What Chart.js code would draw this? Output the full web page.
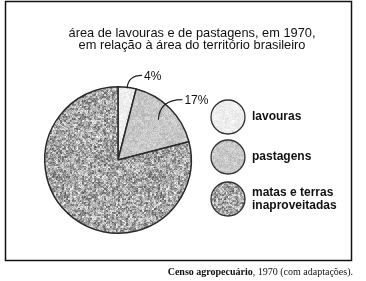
<!DOCTYPE html>
<html><head><meta charset="utf-8">
<script src="https://cdn.jsdelivr.net/npm/chart.js@4.4.0/dist/chart.umd.min.js"></script>
<style>html,body{margin:0;padding:0;background:#fff;}#wrap{width:366px;height:281px;position:relative;}canvas{display:block;}</style>
</head><body><div id="wrap"><canvas id="c" width="366" height="281"></canvas></div>
<script>
// ---- data ----
const categories = ['lavouras', 'pastagens', 'matas e terras inaproveitadas'];
const legendLines = [['lavouras'], ['pastagens'], ['matas e terras', 'inaproveitadas']];
const values = [4, 17, 79];
const labelledSlices = [0, 1];
const titleLines = ['área de lavouras e de pastagens, em 1970,', 'em relação à área do território brasileiro'];
const sourceBold = 'Censo agropecuário';
const sourceRest = ', 1970 (com adaptações).';

// ---- textures (deterministic) ----
function lcg(seed){let s=seed>>>0;return()=>{s=(s*1664525+1013904223)>>>0;return s/4294967296;};}
function makePattern(seed, mean, fine, coarse, cell){
  const n=96, cv=document.createElement('canvas'); cv.width=n; cv.height=n;
  const g=cv.getContext('2d'), img=g.createImageData(n,n), rnd=lcg(seed);
  const cw=Math.ceil(n/cell), cg=[];
  for(let i=0;i<cw*cw;i++) cg.push((rnd()-0.5)*2);
  for(let y=0;y<n;y++)for(let x=0;x<n;x++){
    const c=cg[Math.floor(y/cell)*cw+Math.floor(x/cell)];
    let v=mean+c*coarse+(rnd()-0.5)*2*fine;
    v=Math.max(40,Math.min(250,v));
    const k=(y*n+x)*4; img.data[k]=img.data[k+1]=img.data[k+2]=v; img.data[k+3]=255;
  }
  g.putImageData(img,0,0);
  return document.getElementById('c').getContext('2d').createPattern(cv,'repeat');
}
const fills = [
  makePattern(11, 238, 10, 6, 3),
  makePattern(23, 200, 16, 10, 3),
  makePattern(37, 168, 38, 48, 2)
];

const decor = {
  id: 'decor',
  beforeDraw(chart){
    const c=chart.ctx; c.save(); c.fillStyle='#fff'; c.fillRect(0,0,chart.width,chart.height); c.restore();
  },
  afterDraw(chart){
    const c=chart.ctx; c.save();
    // frame
    c.strokeStyle='#111'; c.lineWidth=1.5; c.strokeRect(5.5,1.5,346,259);
    // title
    c.fillStyle='#111'; c.font='12.8px "Liberation Sans", Arial, sans-serif';
    c.textAlign='center'; c.textBaseline='middle';
    titleLines.forEach((t,i)=>c.fillText(t,192,33+i*12.5));
    // slice labels with leader lines
    const meta=chart.getDatasetMeta(0);
    const total=values.reduce((a,b)=>a+b,0);
    const geo=[{fr:0.985,dx:15,dy:-13},{fr:0.78,dx:24,dy:-20}];
    c.font='12px "Liberation Sans", Arial, sans-serif'; c.textAlign='left';
    labelledSlices.forEach((idx,j)=>{
      const a=meta.data[idx]; const p=a.getProps(['x','y','startAngle','endAngle','outerRadius'],true);
      const mid=(p.startAngle+p.endAngle)/2, r=p.outerRadius*geo[j].fr;
      const sx=p.x+Math.cos(mid)*r, sy=p.y+Math.sin(mid)*r;
      const ex=sx+geo[j].dx, ey=sy+geo[j].dy;
      c.strokeStyle='#222'; c.lineWidth=1.2; c.beginPath(); c.moveTo(sx,sy);
      c.quadraticCurveTo(sx+1,ey,ex,ey); c.stroke();
      c.fillStyle='#111';
      c.fillText(Math.round(values[idx]/total*100)+'%',ex+2,ey+1);
    });
    // legend
    const ly=[117,157,199];
    categories.forEach((cat,i)=>{
      c.beginPath(); c.arc(228,ly[i],17,0,Math.PI*2);
      c.fillStyle=fills[i]; c.fill(); c.strokeStyle='#333'; c.lineWidth=1.3; c.stroke();
      c.fillStyle='#111'; c.font='bold 12px "Liberation Sans", Arial, sans-serif';
      const lines=legendLines[i];
      lines.forEach((t,k)=>c.fillText(t,252,ly[i]+(k-(lines.length-1)/2)*12.5));
    });
    // source
    c.textAlign='left'; c.textBaseline='middle';
    c.font='bold 10px "Liberation Serif", "Times New Roman", serif';
    const wb=c.measureText(sourceBold).width;
    c.font='10px "Liberation Serif", "Times New Roman", serif';
    const wr=c.measureText(sourceRest).width;
    const x0=353-wb-wr;
    c.font='bold 10px "Liberation Serif", "Times New Roman", serif'; c.fillText(sourceBold,x0,272);
    c.font='10px "Liberation Serif", "Times New Roman", serif'; c.fillText(sourceRest,x0+wb,272);
    c.restore();
  }
};

new Chart(document.getElementById('c'), {
  type: 'pie',
  data: { labels: categories, datasets: [{ data: values, backgroundColor: fills, borderColor: '#2a2a2a', borderWidth: 1.5 }] },
  options: {
    responsive: false, animation: false, devicePixelRatio: 1,
    layout: { padding: { left: 44, right: 174, top: 86, bottom: 47 } },
    plugins: { legend: { display: false }, tooltip: { enabled: false }, title: { display: false } }
  },
  plugins: [decor]
});
</script></body></html>
